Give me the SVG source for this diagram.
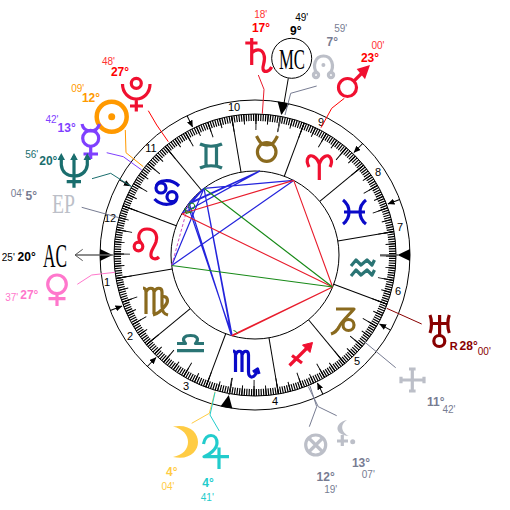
<svg xmlns="http://www.w3.org/2000/svg" width="510" height="510" viewBox="0 0 510 510">
<style>
text{font-family:"Liberation Sans",Arial,sans-serif;text-anchor:middle}
.d{font-size:12px;font-weight:bold}
.m{font-size:10px}
.h{font-size:11px;fill:#000}
.c{fill:none;stroke-width:1}
.b{stroke:#2424dc;stroke-width:1.2;fill:none}
.s{fill:none;stroke-width:3.2;stroke-linecap:butt;stroke-linejoin:round}
.gr{stroke:#bcbfc8}.gt{fill:#777c92}
</style>
<defs>
<marker id="ah" markerWidth="7" markerHeight="6" refX="6.5" refY="3" orient="auto" markerUnits="userSpaceOnUse"><path d="M0,0L7,3L0,6Z" fill="#000"/></marker>
</defs>
<rect width="510" height="510" fill="#fff"/>
<g id="wheel">
<circle cx="255" cy="255" r="155" fill="#fff" stroke="#000" stroke-width="1"/>
<circle cx="255" cy="255" r="84" fill="none" stroke="#000" stroke-width="1"/>
<circle cx="255" cy="255" r="141" fill="none" stroke="#000" stroke-width="1"/>
<g transform="rotate(-39.58 255 255)" fill="none" stroke="#000">
<circle cx="255" cy="255" r="137.5" stroke-width="7" pathLength="360" stroke-dasharray="0.5 0.5" stroke-dashoffset="0.25"/>
<circle cx="255" cy="255" r="136" stroke-width="10" pathLength="360" stroke-dasharray="0.42 4.58" stroke-dashoffset="0.21"/>
<circle cx="255" cy="255" r="133" stroke-width="16" pathLength="360" stroke-dasharray="0.38 9.62" stroke-dashoffset="0.19"/>
<g stroke-width="1">
<path d="M339,255H396" transform="rotate(0 255 255)"/>
<path d="M339,255H396" transform="rotate(30 255 255)"/>
<path d="M339,255H396" transform="rotate(60 255 255)"/>
<path d="M339,255H396" transform="rotate(90 255 255)"/>
<path d="M339,255H396" transform="rotate(120 255 255)"/>
<path d="M339,255H396" transform="rotate(150 255 255)"/>
<path d="M339,255H396" transform="rotate(180 255 255)"/>
<path d="M339,255H396" transform="rotate(210 255 255)"/>
<path d="M339,255H396" transform="rotate(240 255 255)"/>
<path d="M339,255H396" transform="rotate(270 255 255)"/>
<path d="M339,255H396" transform="rotate(300 255 255)"/>
<path d="M339,255H396" transform="rotate(330 255 255)"/>
</g>
</g>
<g stroke="#000" stroke-width="1" fill="none">
<path d="M410,255H397.5" marker-end="url(#ah)" transform="rotate(-21 255 255)"/>
<path d="M410,255H397.5" marker-end="url(#ah)" transform="rotate(-46 255 255)"/>
<path d="M410,255H397.5" marker-end="url(#ah)" transform="rotate(-116 255 255)"/>
<path d="M410,255H397.5" marker-end="url(#ah)" transform="rotate(-151 255 255)"/>
<path d="M410,255H397.5" marker-end="url(#ah)" transform="rotate(-201 255 255)"/>
<path d="M410,255H397.5" marker-end="url(#ah)" transform="rotate(-226 255 255)"/>
<path d="M410,255H397.5" marker-end="url(#ah)" transform="rotate(-296 255 255)"/>
<path d="M410,255H397.5" marker-end="url(#ah)" transform="rotate(-331 255 255)"/>
</g>
<g fill="#000">
<path d="M410,249V261L397.5,255Z"/>
<path d="M410,249V261L397.5,255Z" transform="rotate(-79.4 255 255)"/>
<path d="M410,249V261L397.5,255Z" transform="rotate(-180 255 255)"/>
<path d="M410,249V261L397.5,255Z" transform="rotate(-259.4 255 255)"/>
</g>
<path d="M380,255H398M277.7,131.7L281,117" stroke="#555" stroke-width="1.3" fill="none"/>
<path d="M231.8,378L229,395" stroke="#222" stroke-width="1" fill="none"/>
<text class="h" x="234" y="111">10</text>
<text class="h" x="151" y="152">11</text>
<text class="h" x="110" y="222">12</text>
<text class="h" x="107" y="286">1</text>
<text class="h" x="130" y="340">2</text>
<text class="h" x="186" y="390">3</text>
<text class="h" x="275" y="405">4</text>
<text class="h" x="357" y="365">5</text>
<text class="h" x="398" y="295">6</text>
<text class="h" x="400" y="231">7</text>
<text class="h" x="378" y="176">8</text>
<text class="h" x="321" y="126">9</text>
</g>
<g id="aspects">
<g class="b">
<path d="M204,188.3L293.7,180.4M189.1,203L259.6,171.1M187.7,204.8L259.6,171.1M181.9,213.7L259.6,171.1"/>
<path d="M171.7,265.5L293.7,180.4M171.7,265.5L204,188.3M189.1,203L204,188.3M181.9,213.7L204,188.3"/>
<path d="M204,188.3L231.4,335.6M204,188.3L232.2,335.9M189.1,203L231.4,335.6M187.7,204.8L232.2,335.9"/>
</g>
<path d="M171.7,265.5L188.5,204" stroke="#d050c0" stroke-width="1" stroke-dasharray="3 2" fill="none"/>
<path d="M181.9,213.7L293.7,180.4M181.9,213.7L332.6,287M293.7,180.4L332.6,287M231.4,335.6L332.6,287M232.2,335.9L332.6,287" stroke="#e81c2c" stroke-width="1.1" fill="none"/>
<path d="M204,188.3L332.6,287M171.7,265.5L332.6,287" stroke="#188a18" stroke-width="1.1" fill="none"/>
<circle cx="191.7" cy="206" r="3" fill="none" stroke="#188a18" stroke-width="1"/>
<path d="M185,208.5A5,5 0 0 0 191.5,212L186,213.5Z" fill="none" stroke="#188a18" stroke-width="1"/>
<path d="M233.5,330.5A5,5 0 0 1 237.5,333.5" fill="none" stroke="#188a18" stroke-width="1"/>
</g>
<g id="connectors" fill="none" stroke-width="1">
<path d="M258.3,75L264,89.3L262.3,113.7" stroke="#e81c2c"/>
<path d="M288.3,78.3L282.3,113.3" stroke="#000"/>
<path d="M316.7,86L290.7,93.3L285,115" stroke="#777c92"/>
<path d="M344.3,98.3L331.7,108.3L321,127.7" stroke="#f00"/>
<path d="M148.3,110.7L156.7,125L168.3,141.7" stroke="#f00"/>
<path d="M125.3,130L126,152.7L143.3,166.7" stroke="#f90"/>
<path d="M106.7,152.7L123.3,156.7L141.7,170" stroke="#7f3fff"/>
<path d="M92,178.7L110.7,173.3L131.7,186.7" stroke="#1a6e6e"/>
<path d="M81.7,207.3L119,217.7" stroke="#777c92"/>
<path d="M77.3,284.3L91.7,275L115,272.3" stroke="#ff77cc"/>
<path d="M191.7,423.3L209.3,413.3L215,391.7" stroke="#fc4"/>
<path d="M219.3,431L210,415L215,392.3" stroke="#2cc"/>
<path d="M421.7,324L386.7,308.3" stroke="#800"/>
<path d="M395.7,367.7L365,342.3" stroke="#777c92"/>
<path d="M336.7,415.7L318.3,406.7L308.3,386.7" stroke="#777c92"/>
<path d="M309.3,426.7L316.7,406.7L310,386" stroke="#777c92"/>
<path d="M75,255H113" stroke="#666" stroke-width="1.5"/>
<path d="M82.7,249.3L75,255L82.7,260.7" stroke="#555"/>
</g>
<g id="signs">
<g id="aries" class="s" stroke="#f01030"><path d="M319.3,180V164C317,157 310,153 308,158C306,161 308,165 309,167M319.3,164C321.5,157 328,153 330.5,158C332.5,161 331,165 330,167"/></g>
<g id="taurus" class="s" stroke="#8a6a1e"><path d="M256.5,136C260,143 262,145 267,145C272,145 274,143 277.5,136"/><circle cx="266.7" cy="152" r="9.3"/></g>
<g id="gemini" class="s" stroke="#2a7474"><path d="M200,144C206,147 216,147 222,144M200,168C206,165 216,165 222,168M206,146V166M216.5,146V166"/></g>
<g id="cancer" class="s" stroke="#0a0ac8"><circle cx="161" cy="188" r="5"/><circle cx="172" cy="196.7" r="5"/><path d="M156.5,186C158,180 171,178 179,186M176.5,199C175,205 162,207 154.5,199"/></g>
<g id="leo" class="s" stroke="#f01030" stroke-width="3.5"><circle cx="138.5" cy="246.5" r="4.3"/><path d="M141,243C136,236 140,229 147,229C155,229 158,235 156,242C154,248 150,251 151,256C152,259 156,260 159,257"/></g>
<g id="virgo" class="s" stroke="#8a6a1e" stroke-width="2.5"><path d="M143,288C145,288 146,290 146,292V314M146,292C148,287 154,287 154,292V314M154,292C156,287 162,287 162,292V306C162,312 164,314 168,315M162,297C168,295 169,302 165,306C162,310 157,314 153,315"/></g>
<g id="libra" class="s" stroke="#2a7474"><path d="M177,350.7H204M177,343.5H185.5C181,338 185,335.5 190.5,335.5C196,335.5 200,338 195.5,343.5H204"/></g>
<g id="scorpio" class="s" stroke="#0a0ac8" stroke-width="2.5"><path d="M233,351C235,351 235.5,353 235.5,355V372M235.5,355C237,350 242,350 242,355V372M242,355C243.5,350 248.5,350 248.5,355V372C248.5,379 255,379 257,370"/><path d="M253,372L257.5,369L259,374"/></g>
<g id="sagittarius" class="s" stroke="#f01030" stroke-width="3.5"><path d="M289.5,365.5L310,345M292,355.5L302,363"/><path d="M312.5,342.5L310,352.5L302.5,345Z" fill="#f01030" stroke-width="1"/></g>
<g id="capricorn" class="s" stroke="#8a6a1e"><path d="M336,309H354C348,316 341,322 339,327C337,331 334,333 331,334"/><circle cx="348.5" cy="325" r="5.5"/></g>
<g id="aquarius" class="s" stroke="#2a7474" stroke-width="2.8"><path d="M351,266L356,260L361,265L367,260L372,265L374.5,260M351,276L356,270L361,275L367,270L372,275L374.5,270"/></g>
<g id="pisces" class="s" stroke="#0a0ac8"><path d="M343,200C351,206 351,218 343,224M366,200C358,206 358,218 366,224M344,212H365"/></g>
</g>
<g id="saturn">
<path class="s" stroke="#f01030" stroke-width="3.5" d="M251.7,38V65M245.3,43H257.5M251.7,53C255,49 262,48 264,55C266,61 262,66 263,69C264,73 269,72 271.7,67"/>
<text class="d" x="261" y="32" fill="#f00">17°</text><text class="m" x="260.7" y="18" fill="#f33">18'</text>
</g>
<g id="mc">
<circle cx="291.7" cy="58.3" r="20" fill="#fff" stroke="#000" stroke-width="1"/>
<text x="292" y="68.5" font-size="30" textLength="26" lengthAdjust="spacingAndGlyphs" style="font-family:'Liberation Serif',serif">MC</text>
<text class="d" x="295.7" y="35" fill="#000">9°</text><text class="m" x="301.7" y="21" fill="#000">49'</text>
</g>
<g id="node">
<path class="s gr" d="M317,73.5C312,66 315,56 323.5,56C332,56 335,66 330,73.5"/><circle class="s gr" cx="316" cy="75" r="2.6"/><circle class="s gr" cx="331" cy="75" r="2.6"/><circle cx="323.4" cy="65" r="2" fill="#bcbfc8"/>
<text class="d gt" x="332.3" y="45.8">7°</text><text class="m gt" x="340.7" y="32">59'</text>
</g>
<g id="mars">
<circle class="s" stroke="#f01030" stroke-width="4" cx="347.5" cy="87.5" r="9"/>
<path class="s" stroke="#f01030" stroke-width="4" d="M354,81L363,72"/><path d="M356.7,69L370,65L365,79.3Z" fill="#f01030"/>
<text class="d" x="370" y="62" fill="#f00">23°</text><text class="m" x="378" y="49" fill="#f33">00'</text>
</g>
<g id="pluto">
<circle class="s" stroke="#f01030" cx="136.3" cy="83.3" r="5"/>
<path class="s" stroke="#f01030" d="M122.5,84C122.5,93 129,99 136.3,99C143.6,99 150,93 150,84M136.3,99V111.5M130,106H143"/>
<text class="d" x="120" y="76" fill="#f00">27°</text><text class="m" x="108.5" y="65" fill="#f33">48'</text>
</g>
<g id="sun">
<circle cx="111.7" cy="116.7" r="15" fill="none" stroke="#f90" stroke-width="4.5"/><circle cx="111.7" cy="116.7" r="3.5" fill="#f90"/>
<text class="d" x="91" y="102" fill="#f90">12°</text><text class="m" x="77.7" y="92" fill="#f90">09'</text>
</g>
<g id="mercury">
<circle class="s" stroke="#7f3fff" stroke-width="4" cx="90.7" cy="138.3" r="8"/>
<path class="s" stroke="#7f3fff" d="M82,124C83,129 86,131 90.7,131C95,131 98,129 99.5,124M90.7,146V159M83.5,154H98"/>
<text class="d" x="66.7" y="132" fill="#7f3fff">13°</text><text class="m" x="52" y="123" fill="#7f3fff">42'</text>
</g>
<g id="neptune">
<path class="s" stroke="#1a6e6e" stroke-width="3.5" d="M61.3,156V165C62,172 67,176 74,176C81,176 86.5,172 87.3,165V156M74,156V187.7M66.7,181.7H81"/>
<path d="M57.5,160L61.3,153L65,160ZM70.2,160L74,153L77.8,160ZM83.5,160L87.3,153L91,160Z" fill="#1a6e6e"/>
<text class="d" x="48.3" y="164.5" fill="#1a6e6e">20°</text><text class="m" x="31.7" y="158" fill="#1a6e6e">56'</text>
</g>
<g id="ep">
<text x="63.5" y="213" font-size="27" textLength="23" lengthAdjust="spacingAndGlyphs" fill="#bcbfc8" style="font-family:'Liberation Serif',serif">EP</text>
<text class="d gt" x="31.3" y="200">5°</text><text class="m gt" x="17.3" y="197">04'</text>
</g>
<g id="ac">
<text x="55" y="267" font-size="33" textLength="24" lengthAdjust="spacingAndGlyphs" fill="#000" style="font-family:'Liberation Serif',serif">AC</text>
<text class="d" x="26.7" y="261" fill="#000">20°</text><text class="m" x="8.3" y="261" fill="#000">25'</text>
</g>
<g id="venus">
<circle class="s" stroke="#ff77cc" stroke-width="4.5" cx="57" cy="284.3" r="9.3"/>
<path class="s" stroke="#ff77cc" stroke-width="4" d="M57,295V306M48.5,298.7H65.5"/>
<text class="d" x="29.3" y="299" fill="#ff77cc">27°</text><text class="m" x="11.7" y="301" fill="#ff77cc">37'</text>
</g>
<g id="moon">
<path d="M173,426.5C190,423.5 198,433 198,442C198,451 190,460.5 173,457C183,455 188,449 188,442C188,435 183,429 173,426.5Z" fill="#fc4"/>
<text class="d" x="171.7" y="476" fill="#fc4">4°</text><text class="m" x="168" y="490" fill="#fc4">04'</text>
</g>
<g id="jupiter">
<path class="s" stroke="#2cc" d="M203.5,444C204.5,438 208,435.5 211,435.5C215,435.5 217,439 217,443C217,449 209,455 204,456.7H229M219,447.5V469"/>
<text class="d" x="208" y="487" fill="#2cc">4°</text><text class="m" x="207.3" y="501" fill="#2cc">41'</text>
</g>
<g id="fortune">
<circle class="s gr" cx="315.7" cy="445" r="10"/>
<path class="s gr" stroke-width="2.5" d="M308.7,438L322.7,452M322.7,438L308.7,452"/>
<text class="d gt" x="325.7" y="480.5">12°</text><text class="m gt" x="330.7" y="493">19'</text>
</g>
<g id="lilith">
<path d="M347,420C335,422 333,435 349,436C342,433 339,425 347,420Z" fill="#bcbfc8"/>
<path class="s gr" stroke-width="2.2" d="M342.3,435V446M337,441H348"/><circle cx="352.7" cy="441.7" r="2.5" fill="#bcbfc8"/>
<text class="d gt" x="361" y="467">13°</text><text class="m gt" x="368.3" y="478">07'</text>
</g>
<g id="vertex">
<path class="s gr" stroke-width="2.4" d="M412.3,369.5V390.5M401.5,380H423.5M409,369H415.6M409,391H415.6M401,376.7V383.3M424,376.7V383.3"/>
<text class="d gt" x="435.7" y="405.5">11°</text><text class="m gt" x="449" y="413">42'</text>
</g>
<g id="uranus">
<path class="s" stroke="#800" stroke-width="3.2" d="M430,315C432,320 432,328 430,333M449.3,315C447.3,320 447.3,328 449.3,333M431,323.5H448.5M439.6,315V335"/>
<circle class="s" stroke="#800" stroke-width="3.2" cx="439.3" cy="341" r="5.5"/>
<text x="453.7" y="350" font-size="11" font-weight="bold" fill="#800">R</text>
<text class="d" x="468.7" y="350" fill="#800">28°</text><text class="m" x="484.3" y="355" fill="#800">00'</text>
</g>
</svg>
